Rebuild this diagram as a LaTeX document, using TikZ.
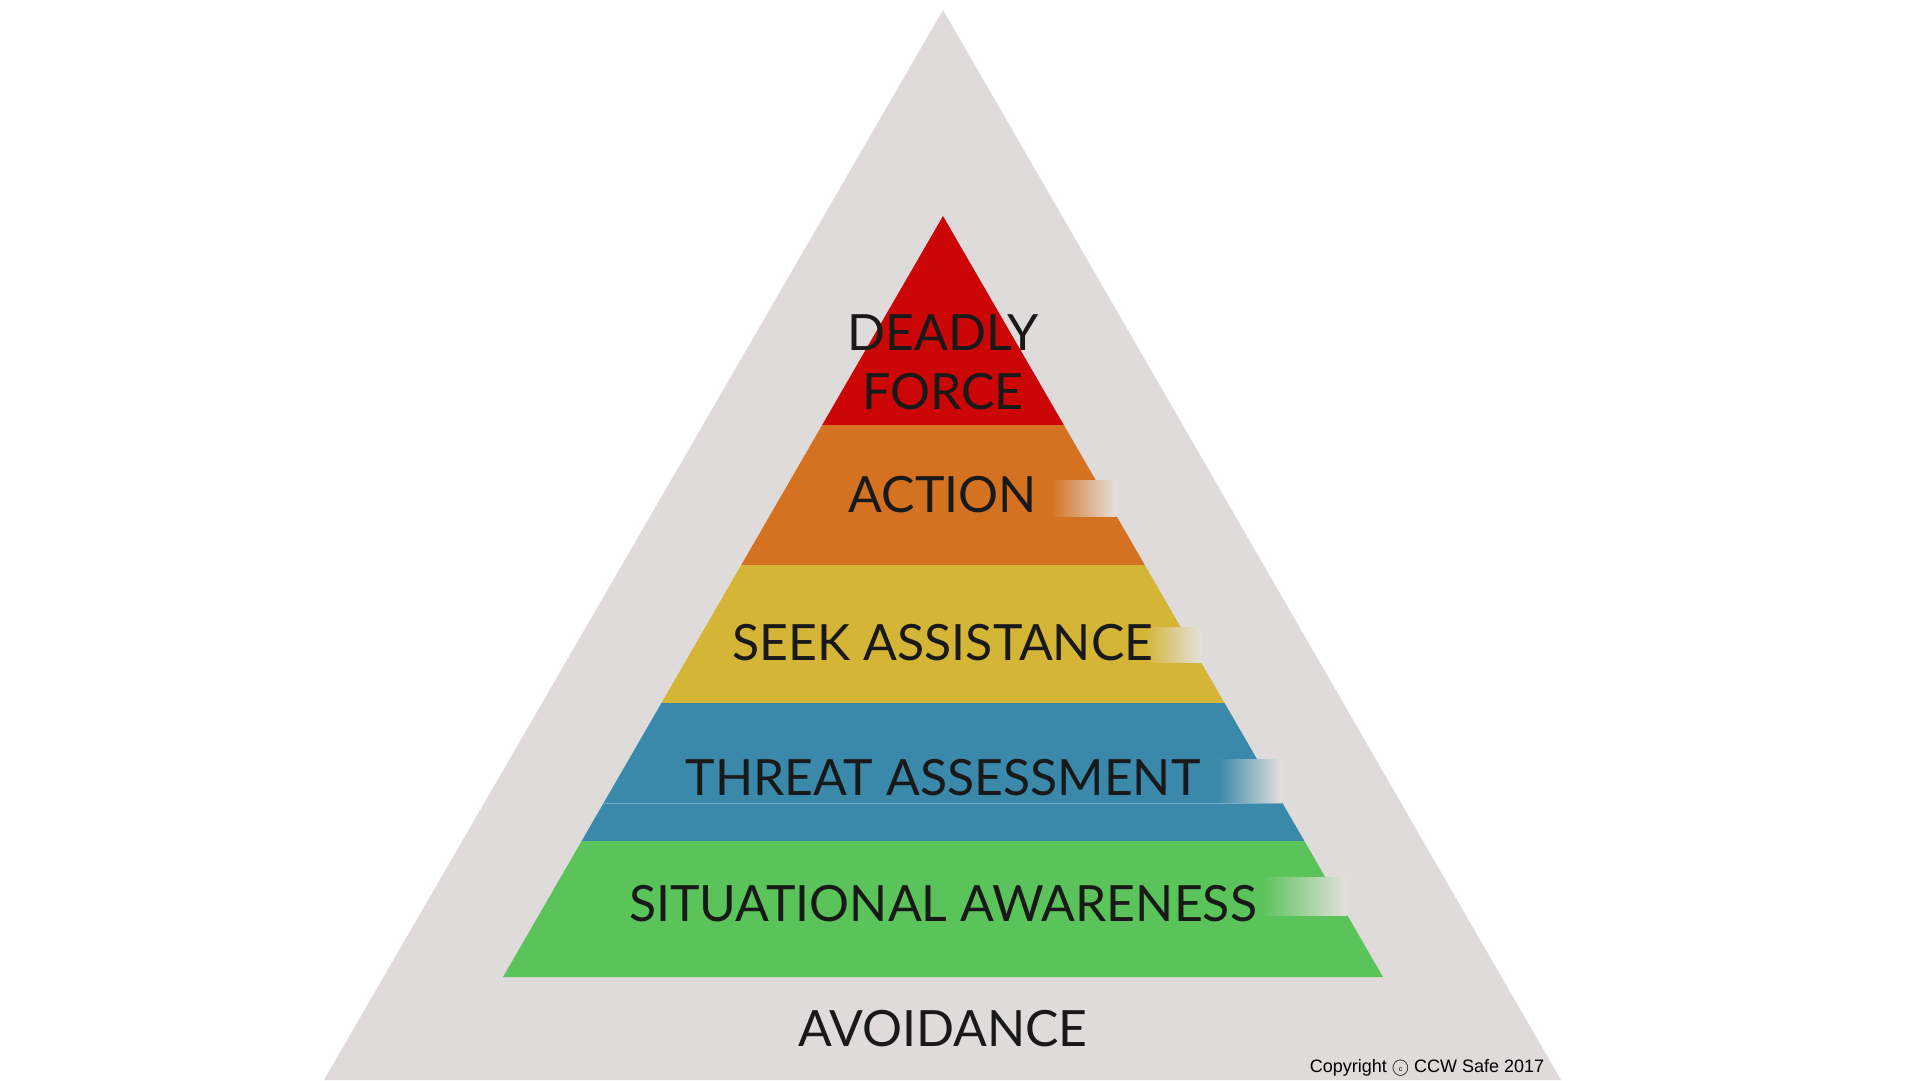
\documentclass[tikz,border=0pt]{standalone}
\usepackage{fontspec}
\setmainfont{Lato}
\newfontfamily\cpfont{Liberation Sans}
\definecolor{bg}{HTML}{DEDBDA}
\definecolor{cred}{HTML}{CC0607}
\definecolor{corange}{HTML}{D57222}
\definecolor{cyellow}{HTML}{D4B536}
\definecolor{cblue}{HTML}{3A89AB}
\definecolor{cgreen}{HTML}{5AC35A}
\definecolor{fade}{HTML}{E4E0DC}
\tikzset{lbl/.style={font=\fontsize{50}{56}\selectfont, text=black!90, inner sep=0pt, anchor=base}}
\newcommand{\lx}[1]{943-0.5782*(#1-216)}
\newcommand{\rx}[1]{943+0.5782*(#1-216)}
\newcommand{\band}[3]{\fill[#1] ({\lx{#2}},#2) -- ({\rx{#2}},#2) -- ({\rx{#3}},#3) -- ({\lx{#3}},#3) -- cycle;}
\newcommand{\strip}[4]{\shade[left color=#1, right color=fade] (#2,#3) rectangle ({\rx{#4}},#4);}
\begin{document}
\begin{tikzpicture}[x=1pt,y=-1pt]
\useasboundingbox (0,0) rectangle (1920,1080);
\fill[white] (0,0) rectangle (1920,1080);
\fill[bg] (943,10) -- (1561,1080) -- (324,1080) -- cycle;
\band{cred}{216}{425}
\band{corange}{425}{565}
\band{cyellow}{565}{703}
\band{cblue}{703}{841}
\band{cgreen}{841}{977}
\draw[cblue!70!white, line width=0.8pt] ({\lx{803}},803) -- ({\rx{803}},803);
\strip{corange}{1051}{480}{516}
\strip{cyellow}{1145}{627}{662}
\strip{cblue}{1218}{759}{802}
\strip{cgreen}{1261}{877}{915}
\node[lbl] (deadly) at (943,350) {DEADLY};
\node[lbl] (force) at (943,409) {FORCE};
\node[lbl] (action) at (943,512) {ACTION};
\node[lbl] (seek) at (943,660) {SEEK ASSISTANCE};
\node[lbl] (threat) at (943,795) {THREAT ASSESSMENT};
\node[lbl] (sit) at (943,921) {SITUATIONAL AWARENESS};
\node[lbl] (avoid) at (943,1046) {AVOIDANCE};
\node[font=\cpfont\fontsize{18}{20}\selectfont, inner sep=0pt, anchor=base] (copy) at (1427,1072) {Copyright \textcircled{\scriptsize c} CCW Safe 2017};
\end{tikzpicture}
\end{document}
